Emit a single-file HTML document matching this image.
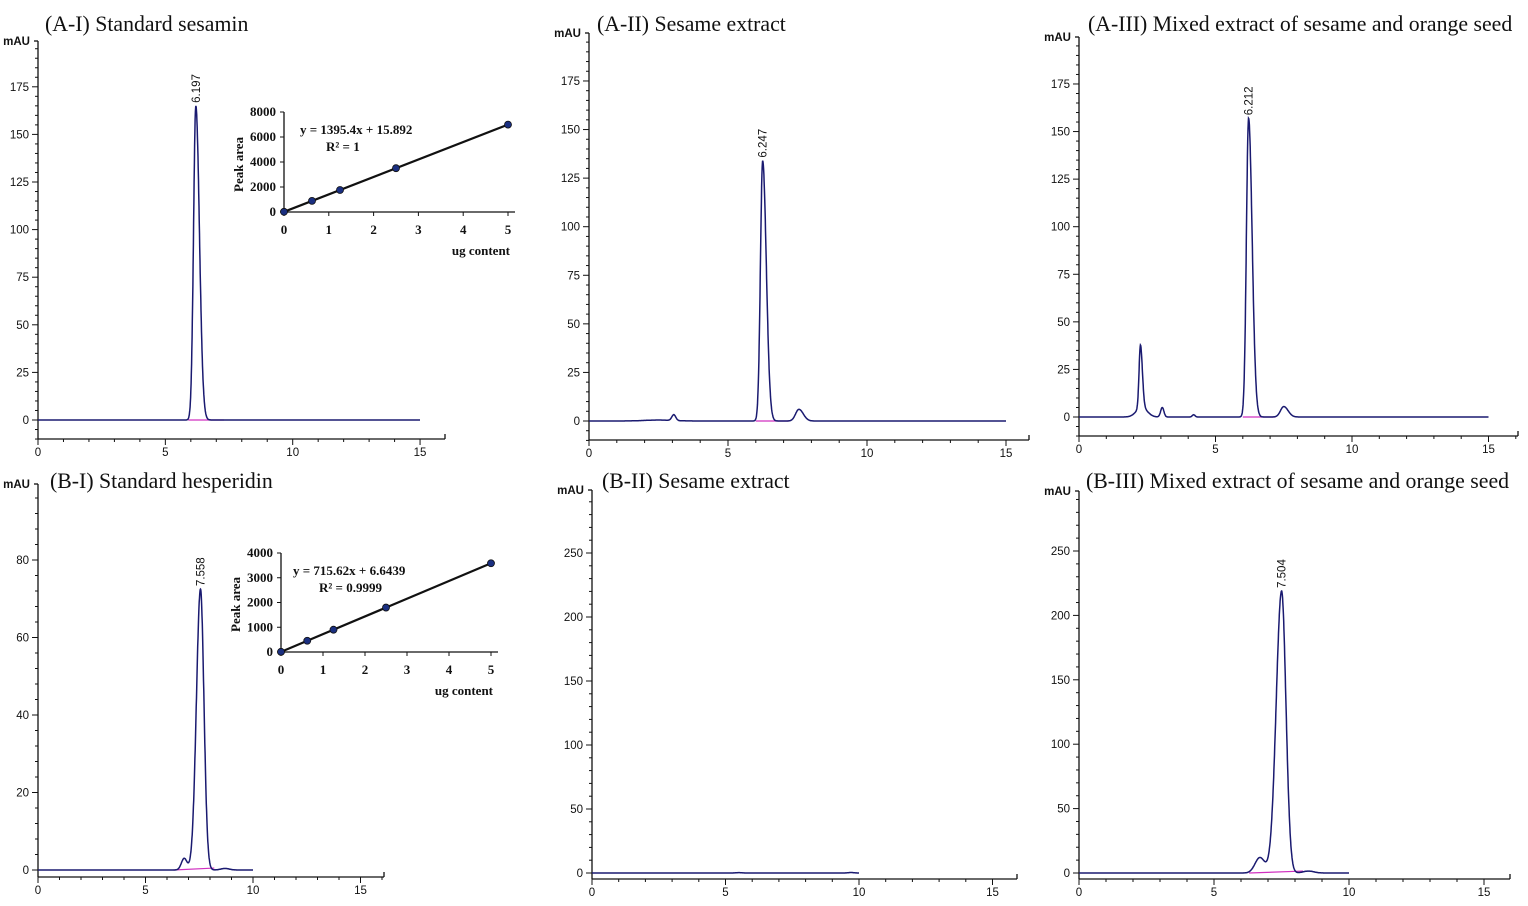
<!DOCTYPE html><html><head><meta charset="utf-8"><style>
body{margin:0;background:#fff}svg{display:block}
.t{font-family:"Liberation Serif",serif;font-size:21.8px;fill:#111}
.k{font-family:"Liberation Sans",sans-serif;font-size:11.5px;fill:#111}
.s{font-family:"Liberation Serif",serif;font-size:13px;font-weight:bold;fill:#111}
</style></head><body>
<svg id="g" width="1528" height="906" xmlns="http://www.w3.org/2000/svg"></svg>
<script>
const S=document.getElementById('g');const NS='http://www.w3.org/2000/svg';
function el(n,a,t){const e=document.createElementNS(NS,n);for(const k in a)e.setAttribute(k,a[k]);if(t!==undefined)e.textContent=t;S.appendChild(e);return e;}
function panel(c){
 const X=v=>c.x0+v*c.xu, Y=v=>c.y0-v*c.yu;
 el('line',{x1:c.x0,y1:c.top,x2:c.x0,y2:c.xa,stroke:'#111','stroke-width':1.3});
 el('line',{x1:c.x0-4,y1:c.top,x2:c.x0,y2:c.top,stroke:'#111','stroke-width':1.3});
 el('line',{x1:c.x0,y1:c.xa,x2:c.xend,y2:c.xa,stroke:'#111','stroke-width':1.3});
 el('line',{x1:c.xend,y1:c.xa,x2:c.xend,y2:c.xa-5,stroke:'#111','stroke-width':1.3});
 el('text',{x:c.x0-8,y:c.top+4,'text-anchor':'end',class:'k','font-size':9.5,'font-weight':'bold'},'mAU');
 for(let v=c.ymin;Y(v)>=c.top+2;v+=c.ym){const y=Y(v);const maj=Math.abs(v%c.yM)<1e-6;
  el('line',{x1:c.x0-(maj?6:3),y1:y,x2:c.x0,y2:y,stroke:'#111','stroke-width':1});
  if(maj&&v>=0)el('text',{x:c.x0-9,y:y+4,'text-anchor':'end',class:'k'},v);}
 for(let v=0;X(v)<=c.xend;v+=1){const x=X(v);const maj=v%5==0;
  el('line',{x1:x,y1:c.xa,x2:x,y2:c.xa+(maj?6:3),stroke:'#111','stroke-width':1});
  if(maj)el('text',{x:x,y:c.xa+17,'text-anchor':'middle',class:'k','font-size':12.5},v);}
 if(c.bl)el('line',{x1:X(c.bl[0]),y1:Y(0),x2:X(c.bl[1]),y2:Y(c.bl[2]||0),stroke:'#d030c0','stroke-width':1.2});
 let d='';for(let t=0;t<=c.tend;t+=0.01){let v=0;for(const p of c.pk){const s=t<p[0]?p[2]:(p[3]||p[2]);v+=p[1]*Math.exp(-((t-p[0])**2)/(2*s*s));}
  d+=(t?'L':'M')+X(t).toFixed(1)+' '+Y(v).toFixed(1);}
 el('path',{d:d,fill:'none',stroke:'#1a1a70','stroke-width':1.5});
 if(c.lab){const p=c.lab;const x=X(p[0])+4,y=Y(p[1])-3;el('text',{x:x,y:y,transform:`rotate(-90 ${x} ${y})`,class:'k','font-size':12},p[2]);}
 el('text',{x:c.tx,y:c.ty,class:'t'},c.title);
}
panel({x0:38,xu:25.47,y0:420,yu:1.904,top:41,xa:439,xend:445,ymin:-10,ym:5,yM:25,tend:15,bl:[5.9,7.3],
 pk:[[6.197,165,0.09,0.14]],lab:[6.197,165,'6.197'],title:'(A-I) Standard sesamin',tx:45,ty:31});
panel({x0:589,xu:27.8,y0:421,yu:1.943,top:33,xa:440,xend:1029,ymin:-10,ym:5,yM:25,tend:15,bl:[6.0,7.2],
 pk:[[6.247,134,0.08,0.13],[3.05,3,0.07],[7.55,6,0.12,0.16],[2.5,0.5,0.5]],lab:[6.247,134,'6.247'],title:'(A-II) Sesame extract',tx:597,ty:31});
panel({x0:1079,xu:27.3,y0:417,yu:1.903,top:37,xa:436,xend:1518,ymin:-10,ym:5,yM:25,tend:15,bl:[6.0,7.2],
 pk:[[6.212,157,0.08,0.13],[2.25,33,0.05,0.07],[2.3,5,0.2],[3.05,5,0.06],[4.2,1.2,0.05],[7.5,5.5,0.12,0.16]],lab:[6.212,157,'6.212'],title:'(A-III) Mixed extract of sesame and orange seed',tx:1088,ty:31});
panel({x0:38,xu:21.5,y0:870,yu:3.875,top:484,xa:877,xend:384,ymin:0,ym:4,yM:20,tend:10,bl:[6.3,8.2,0.5],
 pk:[[7.558,72.5,0.19,0.16],[6.8,3,0.13],[8.7,0.4,0.2]],lab:[7.558,72.5,'7.558'],title:'(B-I) Standard hesperidin',tx:50,ty:488});
panel({x0:592,xu:26.7,y0:873,yu:1.28,top:490,xa:879,xend:1017,ymin:0,ym:10,yM:50,tend:10,
 pk:[[5.5,0.3,0.1],[9.7,0.4,0.1]],title:'(B-II) Sesame extract',tx:602,ty:488});
panel({x0:1079,xu:27,y0:873,yu:1.288,top:491,xa:879,xend:1510,ymin:0,ym:10,yM:50,tend:10,bl:[6.3,8.3,1.5],
 pk:[[7.504,219,0.2,0.16],[6.7,12,0.18],[8.5,1.5,0.2]],lab:[7.504,219,'7.504'],title:'(B-III) Mixed extract of sesame and orange seed',tx:1086,ty:488});
function inset(c){
 const X=v=>c.ox+v*c.xu, Y=v=>c.oy-v*c.yu;
 el('line',{x1:c.ox,y1:Y(c.ymax),x2:c.ox,y2:c.oy,stroke:'#111','stroke-width':1.3});
 el('line',{x1:c.ox,y1:c.oy,x2:c.xend,y2:c.oy,stroke:'#111','stroke-width':1.3});
 for(let v=0;v<=c.ymax;v+=c.ys){el('line',{x1:c.ox-4,y1:Y(v),x2:c.ox,y2:Y(v),stroke:'#111'});el('text',{x:c.ox-8,y:Y(v)+4,'text-anchor':'end',class:'s'},v);}
 for(let v=0;v<=5;v++){el('line',{x1:X(v),y1:c.oy,x2:X(v),y2:c.oy+4,stroke:'#111'});el('text',{x:X(v),y:c.oy+22,'text-anchor':'middle',class:'s'},v);}
 el('line',{x1:X(0),y1:Y(c.b),x2:X(5),y2:Y(c.m*5+c.b),stroke:'#111','stroke-width':2.2});
 for(const v of [0,0.625,1.25,2.5,5])el('circle',{cx:X(v),cy:Y(c.m*v+c.b),r:3.5,fill:'#1a2f80',stroke:'#111','stroke-width':0.8});
 const lx=c.ox-41,ly=c.oy-20;el('text',{x:lx,y:ly,transform:`rotate(-90 ${lx} ${ly})`,class:'s','font-size':14},'Peak area');
 el('text',{x:X(5)+2,y:c.oy+43,'text-anchor':'end',class:'s','font-size':14},'ug content');
 el('text',{x:c.ex,y:c.ey,class:'s','font-size':12},c.eq);
 el('text',{x:c.ex+26,y:c.ey+17,class:'s','font-size':12},c.r2);
}
inset({ox:284,oy:212,xu:44.8,yu:0.0125,ymax:8000,ys:2000,xend:515,m:1395.4,b:15.9,eq:'y = 1395.4x + 15.892',r2:'R² = 1',ex:300,ey:134});
inset({ox:281,oy:652,xu:42,yu:0.02475,ymax:4000,ys:1000,xend:498,m:715.62,b:6.6,eq:'y = 715.62x + 6.6439',r2:'R² = 0.9999',ex:293,ey:575});
</script></body></html>
